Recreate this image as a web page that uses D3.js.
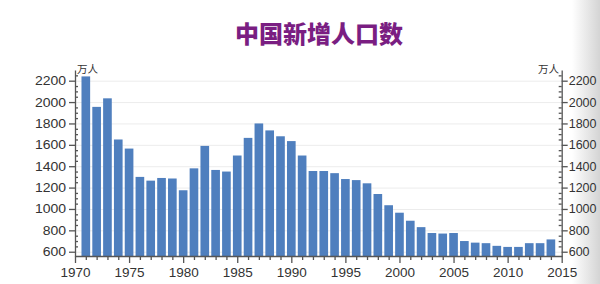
<!DOCTYPE html>
<html>
<head>
<meta charset="utf-8">
<script src="https://cdn.jsdelivr.net/npm/d3@7"></script>
<style>
  body { margin: 0; background: #fff; }
  svg { display: block; }
</style>
</head>
<body>
<svg width="600" height="284"></svg>
<script>
const years = d3.range(1971, 2015);
const growth = [2240, 1955, 2035, 1650, 1565, 1300, 1265, 1290, 1285, 1175,
  1380, 1590, 1365, 1350, 1500, 1665, 1800, 1735, 1680, 1635,
  1500, 1355, 1355, 1335, 1280, 1270, 1240, 1140, 1035, 965,
  890, 830, 775, 770, 775, 700, 685, 680, 655, 645,
  645, 680, 680, 715];
const yTicks = d3.range(600, 2201, 200);
const xTicks = d3.range(1970, 2016, 5);
const title = "中国新增人口数";
const unit = "万人";

const svg = d3.select("svg");

// grey shadow on the right edge
const defs = svg.append("defs");
const grad = defs.append("linearGradient").attr("id", "edge");
grad.append("stop").attr("offset", 0).attr("stop-color", "#fff");
grad.append("stop").attr("offset", 1).attr("stop-color", "#d4d4d4");
svg.append("rect").attr("x", 572).attr("y", 0).attr("width", 28).attr("height", 284)
  .attr("fill", "url(#edge)");

const x = d3.scaleLinear().domain([1970, 2015]).range([75, 561.7]);
const y = d3.scaleLinear().domain([560, 2300]).range([256, 70]);

svg.append("text")
  .attr("x", 319).attr("y", 43)
  .attr("text-anchor", "middle")
  .attr("font-family", "Noto Sans CJK SC")
  .attr("font-weight", "900")
  .attr("font-size", 24)
  .attr("fill", "#7a1e82")
  .text(title);

// grid
svg.append("g")
  .selectAll("line")
  .data(yTicks)
  .join("line")
  .attr("x1", x(1970)).attr("x2", x(2015))
  .attr("y1", d => y(d) + 0.5).attr("y2", d => y(d) + 0.5)
  .attr("stroke", "#ececec");

const step = x(1971) - x(1970);
const bw = step * 0.8;

svg.append("g")
  .attr("fill", "#4f7fbe")
  .selectAll("rect")
  .data(years)
  .join("rect")
  .attr("x", d => x(d) - bw / 2)
  .attr("y", (d, i) => y(growth[i]))
  .attr("width", bw)
  .attr("height", (d, i) => y.range()[0] - y(growth[i]));

const minorY = d3.range(600, 2300, 50).filter(d => d % 200 !== 0);
const minorX = d3.range(1971, 2015).filter(d => d % 5 !== 0);
const fmt = d3.format("d");

function style(g) {
  g.select(".domain").attr("stroke", "#555").attr("stroke-width", 1.3);
  g.selectAll(".tick line").attr("stroke", "#555").attr("stroke-width", 1.3);
  g.selectAll("text")
    .attr("fill", "#333")
    .attr("font-family", "Liberation Sans, Arial, sans-serif");
}

// left axis
svg.append("g")
  .attr("transform", "translate(75,0)")
  .call(d3.axisLeft(y).tickValues(yTicks).tickFormat(fmt).tickSize(6).tickPadding(2).tickSizeOuter(0))
  .call(g => {
    style(g);
    g.selectAll("text").attr("font-size", 12.5).attr("transform", "scale(1.12,1)");
  });
svg.append("g")
  .attr("transform", "translate(75,0)")
  .call(d3.axisRight(y).tickValues(minorY).tickSize(3).tickFormat("").tickSizeOuter(0))
  .call(g => { style(g); g.select(".domain").remove(); });

// right axis
svg.append("g")
  .attr("transform", "translate(561.7,0)")
  .call(d3.axisRight(y).tickValues(yTicks).tickFormat(fmt).tickSize(6).tickPadding(1).tickSizeOuter(0))
  .call(g => {
    style(g);
    g.selectAll("text").attr("font-size", 12.5);
  });
svg.append("g")
  .attr("transform", "translate(561.7,0)")
  .call(d3.axisLeft(y).tickValues(minorY).tickSize(3).tickFormat("").tickSizeOuter(0))
  .call(g => { style(g); g.select(".domain").remove(); });

// bottom axis
svg.append("g")
  .attr("transform", "translate(0,256)")
  .call(d3.axisBottom(x).tickValues(xTicks).tickFormat(fmt).tickSize(7).tickPadding(4).tickSizeOuter(0))
  .call(g => {
    style(g);
    g.selectAll("text").attr("font-size", 13.5);
  });
svg.append("g")
  .attr("transform", "translate(0,256)")
  .call(d3.axisBottom(x).tickValues(minorX).tickSize(4).tickFormat("").tickSizeOuter(0))
  .call(g => { style(g); g.select(".domain").remove(); });

// unit labels
svg.append("text")
  .attr("x", 77).attr("y", 73)
  .attr("font-family", "Noto Sans CJK SC").attr("font-size", 10.5)
  .attr("fill", "#333")
  .text(unit);
svg.append("text")
  .attr("x", 559).attr("y", 73)
  .attr("text-anchor", "end")
  .attr("font-family", "Noto Sans CJK SC").attr("font-size", 10.5)
  .attr("fill", "#333")
  .text(unit);
</script>
</body>
</html>
